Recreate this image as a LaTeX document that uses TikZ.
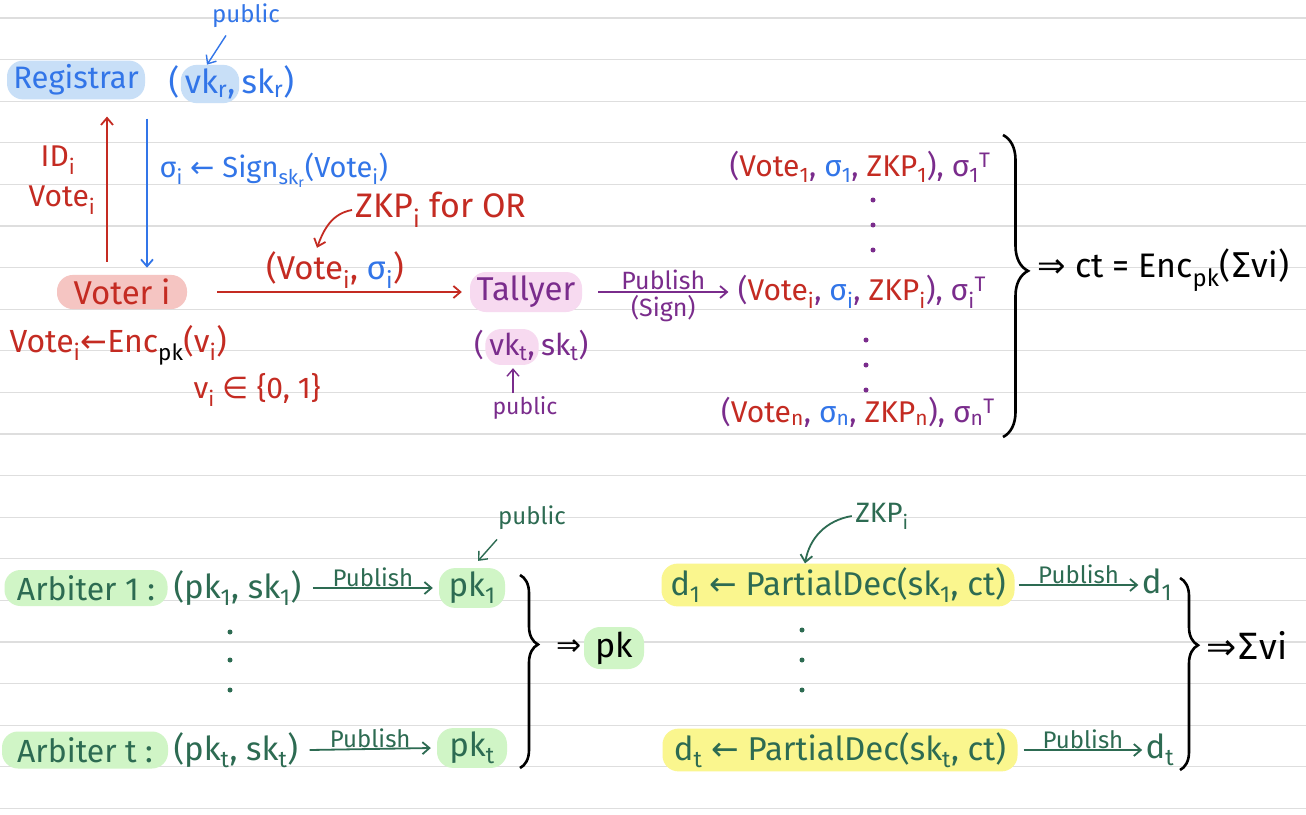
\documentclass[tikz,border=0pt]{standalone}
\usepackage{fontspec}
\setmainfont{Fira Sans}
\newfontfamily\symfont{DejaVu Sans}
\usetikzlibrary{arrows.meta,positioning,decorations.pathreplacing}
\definecolor{regblue}{HTML}{3275E8}
\definecolor{hlblue}{HTML}{C8DFF7}
\definecolor{votered}{HTML}{C42B22}
\definecolor{hlred}{HTML}{F5C5C2}
\definecolor{tallpurple}{HTML}{7A2C8C}
\definecolor{hlpink}{HTML}{F7DAF0}
\definecolor{arbgreen}{HTML}{2D6B52}
\definecolor{hlgreen}{HTML}{D0F5C6}
\definecolor{hlyellow}{HTML}{FAF68E}
\definecolor{ruleline}{HTML}{DEDEDE}

\begin{document}
\begin{tikzpicture}[
          x=1pt, y=-1pt,
          fs/.style={font=\fontsize{#1}{#1}\selectfont},
          big/.style={fs=33},
          mid/.style={fs=30},
          sml/.style={fs=24},
          hl/.style={rounded corners=16pt, inner xsep=6pt, inner ysep=4pt},
          arr/.style={line width=1.8pt, -{Straight Barb[length=7pt,width=12pt]}},
          brc/.style={decorate, line width=2.6pt, decoration={brace, amplitude=#1}},
          vdot/.style={circle, inner sep=0pt, minimum size=5pt, fill}
      ]
        \useasboundingbox (0,0) rectangle (1306,814);
        \fill[white] (0,0) rectangle (1306,814);

        % Notebook rules
        \foreach \k in {0,...,19}
          \draw[ruleline, line width=1.2pt] (0,{18+41.6*\k}) -- (1306,{18+41.6*\k});

        % Registrar
        \node[hl, fs=31, fill=hlblue, text=regblue, minimum width=138pt, minimum height=36pt] (reg) at (76,80) {Registrar};
        \node[hl, big, fill=hlblue, text=regblue, inner xsep=4pt] (vkr) at (210,84) {vk\textsubscript{r},};
        \node[big, text=regblue, inner xsep=1pt, anchor=base east] (lpr) at (vkr.base west) {(};
        \node[big, text=regblue, inner xsep=2pt, anchor=base west] (skr) at (vkr.base east) {sk\textsubscript{r})};
        \node[sml, text=regblue] (pubR) at (246,16) {public};
        \draw[arr, regblue, line width=1.4pt] ([xshift=-20pt,yshift=-4pt]pubR.south) -- ([xshift=-3pt]vkr.north);

        % Voter <-> Registrar
        \node[hl, big, fill=hlred, text=votered, minimum width=130pt, minimum height=34pt] (voter) at (122,292) {Voter i};
        \draw[arr, votered] ([xshift=-15pt,yshift=13pt]voter.north) -- ([xshift=31pt,yshift=-17pt]reg.south);
        \draw[arr, regblue] ([xshift=71pt,yshift=-19pt]reg.south) -- ([xshift=25pt,yshift=7pt]voter.north);
        \node[mid, text=votered] (idi) at (58,160) {ID\textsubscript{i}};
        \node[mid, text=votered] (vti) at (62,200) {Vote\textsubscript{i}};
        \node[fs=29, text=regblue, anchor=west] (sig) at (156,170) {σ\textsubscript{i} {\symfont ←} Sign\textsubscript{sk\textsubscript{r}}(Vote\textsubscript{i})};
        \node[fs=32, text=votered, anchor=west] (enc) at (6,345) {Vote\textsubscript{i}{\symfont ←}Enc\textsubscript{\color{black}pk}(v\textsubscript{i})};
        \node[mid, text=votered, anchor=west] (vin) at (190,390) {v\textsubscript{i} {\symfont ∈} \{0, 1\}};

        % Voter -> Tallyer
        \node[hl, big, fill=hlpink, text=tallpurple, minimum width=112pt, minimum height=40pt] (tally) at (526,292) {Tallyer};
        \node[big, text=votered] (ballot) at (335,270) {(Vote\textsubscript{i}, \textcolor{regblue}{σ\textsubscript{i}})};
        \node[fs=34, text=votered, anchor=west] (zkp) at (352,210) {ZKP\textsubscript{i} for OR};
        \draw[arr, votered] (zkp.west) to[out=190, in=70] ([xshift=-18pt]ballot.north);
        \draw[arr, votered] ([xshift=30pt]voter.east) -- ([xshift=-8pt]tally.west);
        \node[hl, mid, fill=hlpink, text=tallpurple, inner xsep=4pt] (vkt) at (512,347) {vk\textsubscript{t},};
        \node[mid, text=tallpurple, inner xsep=1pt, anchor=base east] (lpt) at (vkt.base west) {(};
        \node[mid, text=tallpurple, inner xsep=2pt, anchor=base west] (skt) at (vkt.base east) {sk\textsubscript{t})};
        \node[fs=23, text=tallpurple] (pubT) at (525,408) {public};
        \draw[arr, tallpurple, line width=1.4pt] ([xshift=-12pt]pubT.north) -- ([xshift=1pt,yshift=-3pt]vkt.south);

        % Bulletin board
        \node[mid, text=tallpurple] (tup1) at (860,167) {(\textcolor{votered}{Vote\textsubscript{1}}, \textcolor{regblue}{σ\textsubscript{1}}, \textcolor{votered}{ZKP\textsubscript{1}}), σ\textsubscript{1}\textsuperscript{T}};
        \node[mid, text=tallpurple] (tupI) at (862,292) {(\textcolor{votered}{Vote\textsubscript{i}}, \textcolor{regblue}{σ\textsubscript{i}}, \textcolor{votered}{ZKP\textsubscript{i}}), σ\textsubscript{i}\textsuperscript{T}};
        \node[mid, text=tallpurple] (tupN) at (858,412) {(\textcolor{votered}{Vote\textsubscript{n}}, \textcolor{regblue}{σ\textsubscript{n}}, \textcolor{votered}{ZKP\textsubscript{n}}), σ\textsubscript{n}\textsuperscript{T}};
        \foreach \y in {200,225,250} \node[vdot, tallpurple] (dA\y) at (873,\y) {};
        \foreach \y in {340,365,390} \node[vdot, tallpurple] (dB\y) at (866,\y) {};
        \draw[arr, tallpurple] ([xshift=16pt]tally.east) -- node[fs=25, above=-2pt]{Publish} node[fs=25, below=-1pt]{(Sign)} ([xshift=-6pt]tupI.west);
        \draw[brc=25pt, decoration={aspect=0.45}] (1003,135) -- (1003,437);
        \node[fs=34, anchor=west] (ct) at (1034,270) {{\symfont ⇒} ct = Enc\textsubscript{pk}({\symfont Σ}vi)};

        % Arbiters
        \node[hl, fs=32, fill=hlgreen, text=arbgreen, minimum width=163pt, minimum height=36pt] (arb1) at (86,588) {Arbiter 1 :};
        \node[big, text=arbgreen, anchor=west] (keys1) at (170,588) {(pk\textsubscript{1}, sk\textsubscript{1})};
        \node[hl, big, fill=hlgreen, text=arbgreen, minimum width=66pt, minimum height=38pt] (pk1) at (472,588) {pk\textsubscript{1}};
        \draw[arr, arbgreen] ([xshift=8pt]keys1.east) -- node[sml, above=-3pt]{Publish} ([xshift=-6pt]pk1.west);
        \node[hl, fs=32, fill=hlgreen, text=arbgreen, minimum width=166pt, minimum height=37pt] (arbT) at (85,750) {Arbiter t :};
        \node[big, text=arbgreen, anchor=west] (keysT) at (170,750) {(pk\textsubscript{t}, sk\textsubscript{t})};
        \node[hl, big, fill=hlgreen, text=arbgreen, minimum width=70pt, minimum height=38pt] (pkt) at (472,748) {pk\textsubscript{t}};
        \draw[arr, arbgreen] ([xshift=8pt]keysT.east) -- node[sml, above=-3pt]{Publish} ([xshift=-6pt]pkt.west);
        \foreach \y in {632,660,690} \node[vdot, arbgreen] (dC\y) at (230,\y) {};
        \node[sml, text=arbgreen] (pubA) at (532,518) {public};
        \draw[arr, arbgreen, line width=1.4pt] ([xshift=-35pt,yshift=-6pt]pubA.south) -- ([xshift=6pt,yshift=7pt]pk1.north);
        \draw[brc=18pt, decoration={aspect=0.36}] (520,575) -- (520,768);
        \node[hl, fs=34, fill=hlgreen, minimum width=60pt, minimum height=42pt] (pkAll) at (614,648) {pk};
        \node[fs=30, anchor=east, inner xsep=2pt] (impA) at (pkAll.west) {{\symfont ⇒}};

        % Partial decryption
        \node[hl, big, fill=hlyellow, text=arbgreen, minimum width=353pt, minimum height=40pt] (dec1) at (838,585) {d\textsubscript{1} {\symfont ←} PartialDec(sk\textsubscript{1}, ct)};
        \node[hl, big, fill=hlyellow, text=arbgreen, minimum width=355pt, minimum height=40pt] (decT) at (840,750) {d\textsubscript{t} {\symfont ←} PartialDec(sk\textsubscript{t}, ct)};
        \node[big, text=arbgreen] (out1) at (1157,585) {d\textsubscript{1}};
        \node[big, text=arbgreen] (outT) at (1160,750) {d\textsubscript{t}};
        \draw[arr, arbgreen] ([xshift=4pt]dec1.east) -- node[sml, above=-3pt]{Publish} (out1.west);
        \draw[arr, arbgreen] ([xshift=6pt]decT.east) -- node[sml, above=-3pt]{Publish} (outT.west);
        \foreach \y in {630,660,690} \node[vdot, arbgreen] (dD\y) at (802,\y) {};
        \node[fs=28, text=arbgreen] (zkpB) at (882,516) {ZKP\textsubscript{i}};
        \draw[arr, arbgreen] (zkpB.west) to[out=190, in=80] ([xshift=-33pt]dec1.north);
        \draw[brc=18pt, decoration={aspect=0.35}] (1180,578) -- (1180,770);
        \node[fs=36, anchor=west] (sumV) at (1203,645) {{\symfont ⇒}{\symfont Σ}vi};
      \end{tikzpicture}
\end{document}
